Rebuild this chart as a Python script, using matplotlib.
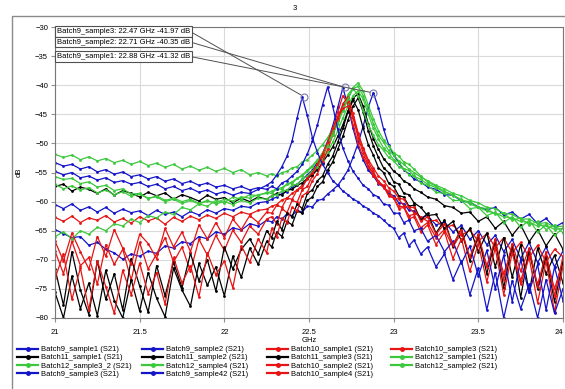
import numpy as np
import matplotlib.pyplot as plt
from matplotlib.lines import Line2D
from matplotlib.patches import Rectangle

plt.rcParams['font.family'] = ['Liberation Sans', 'DejaVu Sans']

# sweep points (GHz), denser around the resonances
freq = [21.00, 21.05, 21.10, 21.15, 21.20, 21.25, 21.30, 21.35, 21.40, 21.45,
        21.50, 21.55, 21.60, 21.65, 21.70, 21.75, 21.80, 21.85, 21.90, 21.95,
        22.00, 22.05, 22.10, 22.15, 22.20, 22.25,
        22.28, 22.31, 22.34, 22.37, 22.40, 22.43, 22.46, 22.49, 22.52, 22.55,
        22.58, 22.61, 22.64, 22.67, 22.70, 22.73, 22.76, 22.79, 22.82, 22.85,
        22.88, 22.91, 22.94, 22.97, 23.00, 23.03, 23.06, 23.09, 23.12,
        23.16, 23.20, 23.25, 23.30, 23.35, 23.40, 23.45, 23.50, 23.55, 23.60,
        23.65, 23.70, 23.75, 23.80, 23.85, 23.90, 23.95, 24.00]

# S21 in dB
b9_s1 = [-64.8, -65.5, -66.2, -66.0, -67.5, -67.0, -68.2, -68.8, -69.9, -69.0,
         -69.4, -68.5, -68.9, -67.6, -68.0, -66.9, -67.2, -66.0, -66.4, -65.2,
         -65.6, -64.5, -64.9, -63.8, -64.2, -63.2,
         -63.5, -62.6, -63.0, -62.1, -62.4, -61.5, -61.8, -60.8, -60.9, -59.8,
         -59.6, -58.7, -58.0, -57.2, -56.0, -54.6, -52.4, -50.0, -47.0, -43.8,
         -41.3, -43.9, -47.5, -50.2, -52.0, -53.3, -54.6, -55.2, -56.1,
         -56.6, -57.5, -57.9, -58.8, -58.9, -59.9, -60.1, -60.9, -61.4, -61.0,
         -62.3, -61.8, -63.0, -62.2, -63.8, -62.9, -64.4, -63.6]
b9_s2 = [-60.5, -61.2, -60.4, -61.5, -60.9, -61.8, -61.0, -62.0, -61.3, -61.9,
         -61.6, -62.4, -61.5, -62.2, -61.8, -62.6, -61.7, -62.3, -61.4, -62.0,
         -61.2, -61.5, -60.8, -61.0, -60.2, -60.0,
         -59.6, -59.2, -58.6, -58.3, -57.5, -57.0, -56.2, -55.4, -54.6, -53.2,
         -51.8, -49.6, -47.0, -43.8, -40.4, -43.6, -47.4, -50.6, -52.8, -54.6,
         -55.6, -56.9, -57.5, -58.6, -59.0, -60.2, -60.4, -61.5, -61.6,
         -62.8, -62.4, -64.0, -63.5, -65.2, -64.1, -66.5, -65.0, -67.4, -65.8,
         -68.6, -66.5, -69.8, -67.0, -70.5, -67.8, -71.2, -68.5]
b10_s1 = [-62.7, -63.4, -62.5, -63.6, -62.8, -63.2, -62.4, -63.5, -62.9, -63.7,
          -62.6, -63.3, -62.8, -63.9, -62.7, -63.4, -62.5, -63.1, -62.3, -62.9,
          -62.0, -62.6, -61.8, -62.2, -61.5, -61.3,
          -60.8, -60.5, -59.7, -59.4, -58.6, -58.0, -57.2, -56.2, -55.0, -53.8,
          -52.0, -50.0, -47.6, -44.6, -41.8, -43.2, -46.8, -50.0, -52.4, -54.0,
          -55.6, -56.4, -57.6, -58.2, -59.3, -59.6, -60.7, -61.0, -61.9,
          -62.6, -63.4, -63.2, -64.6, -64.0, -65.8, -64.9, -66.8, -65.5, -67.9,
          -66.2, -68.8, -67.0, -69.6, -67.5, -70.4, -68.2, -69.5]
b10_s3 = [-68.5, -72.4, -66.8, -71.0, -69.6, -74.2, -67.4, -70.8, -68.2, -73.5,
          -67.0, -71.6, -69.0, -66.2, -70.4, -67.8, -72.0, -66.5, -69.2, -65.8,
          -68.4, -64.9, -67.0, -64.2, -65.6, -63.0,
          -62.6, -63.8, -61.2, -61.9, -59.8, -60.1, -58.0, -57.4, -55.6, -54.0,
          -52.4, -50.2, -48.0, -45.4, -43.4, -42.8, -45.6, -49.0, -51.6, -53.8,
          -55.2, -56.8, -57.4, -58.9, -59.4, -60.8, -60.9, -62.4, -62.2,
          -64.5, -63.6, -66.2, -64.8, -67.8, -65.4, -69.6, -66.2, -71.0, -67.3,
          -72.4, -68.0, -73.6, -68.9, -74.2, -69.4, -75.0, -70.2]
b11_s1 = [-57.4, -57.0, -58.2, -57.5, -57.9, -58.6, -57.8, -58.9, -58.1, -58.6,
          -59.2, -58.4, -59.0, -58.5, -59.6, -58.8, -59.3, -59.9, -58.9, -59.6,
          -59.3, -60.2, -59.4, -60.0, -59.2, -59.6,
          -59.0, -58.6, -58.9, -58.0, -57.9, -57.2, -56.8, -56.0, -55.4, -54.5,
          -53.3, -52.0, -50.6, -48.8, -46.8, -44.4, -42.2, -41.5, -43.6, -46.6,
          -49.2, -51.0, -52.6, -53.6, -54.8, -55.4, -56.5, -56.9, -57.8,
          -58.4, -59.2, -59.6, -60.7, -61.0, -62.0, -61.8, -63.4, -62.6, -64.6,
          -63.4, -65.8, -64.0, -66.9, -64.8, -67.6, -65.5, -68.2]
b11_s2 = [-71.5, -77.8, -68.6, -75.2, -79.4, -70.2, -76.8, -72.4, -78.6, -69.8,
          -74.5, -79.0, -71.0, -76.2, -70.4, -74.8, -68.9, -73.6, -70.0, -75.4,
          -67.8, -71.6, -68.2, -66.4, -69.0, -65.0,
          -66.2, -63.4, -64.8, -62.0, -62.6, -60.4, -61.2, -58.6, -58.0, -56.4,
          -55.6, -53.6, -52.2, -49.8, -47.4, -44.6, -42.6, -44.2, -47.4, -50.2,
          -52.0, -54.2, -55.0, -56.8, -57.4, -59.0, -59.2, -60.8, -60.6,
          -63.2, -62.0, -65.4, -63.2, -67.6, -64.6, -70.2, -65.8, -72.4, -66.6,
          -74.8, -67.4, -76.5, -68.2, -75.0, -69.6, -77.2, -70.4]
b11_s3 = [-75.6, -80.0, -72.8, -78.4, -74.0, -79.6, -71.8, -77.0, -80.0, -73.4,
          -78.8, -72.2, -76.6, -79.8, -71.4, -75.2, -78.0, -70.6, -74.4, -71.2,
          -76.2, -69.4, -73.0, -68.0, -70.8, -66.8,
          -67.8, -65.2, -66.0, -63.4, -64.0, -61.6, -62.0, -59.8, -59.2, -57.4,
          -56.6, -54.6, -53.2, -51.0, -48.8, -46.0, -43.6, -42.2, -44.6, -47.8,
          -50.4, -52.4, -54.2, -55.0, -56.6, -57.0, -58.6, -58.8, -60.2,
          -61.0, -62.4, -62.2, -64.6, -63.4, -66.8, -64.6, -68.6, -65.4, -71.2,
          -66.2, -73.0, -67.4, -75.6, -68.0, -72.4, -69.2, -74.0]
b12_s1 = [-51.9, -52.4, -52.0, -52.8, -52.3, -53.0, -52.6, -53.3, -52.9, -53.6,
          -53.1, -53.8, -53.4, -54.1, -53.6, -54.4, -53.9, -54.6, -54.1, -54.8,
          -54.3, -55.0, -54.5, -55.4, -55.0, -55.6,
          -55.2, -55.6, -55.0, -54.8, -54.2, -54.0, -53.2, -52.8, -52.0, -51.2,
          -50.2, -49.0, -47.6, -46.0, -44.2, -42.2, -40.4, -39.6, -41.0, -43.4,
          -45.8, -47.8, -49.4, -50.4, -51.6, -52.2, -53.2, -53.6, -54.4,
          -55.6, -56.6, -57.4, -58.2, -59.0, -59.6, -60.4, -61.0, -61.6, -62.0,
          -62.6, -62.8, -63.4, -63.6, -64.2, -64.0, -64.8, -64.6]
b12_s3_2 = [-55.7, -56.2, -56.0, -56.9, -56.6, -57.5, -57.2, -58.1, -57.8, -58.7,
            -58.6, -59.4, -59.2, -60.0, -59.6, -60.3, -59.8, -60.4, -59.9, -60.2,
            -59.6, -59.9, -59.2, -59.4, -58.8, -58.6,
            -58.2, -57.8, -57.6, -57.0, -56.6, -56.0, -55.4, -54.6, -53.8, -52.8,
            -51.6, -50.0, -48.2, -46.2, -43.8, -41.6, -40.5, -41.8, -44.4, -46.8,
            -48.6, -50.2, -51.2, -52.4, -53.0, -54.0, -54.4, -55.4, -55.6,
            -56.8, -57.2, -58.4, -58.6, -59.8, -59.8, -61.2, -61.0, -62.4, -61.8,
            -63.6, -62.6, -64.4, -63.2, -65.2, -64.0, -65.8, -64.6]
b12_s4 = [-57.0, -57.8, -57.3, -58.0, -57.6, -58.5, -58.0, -58.8, -58.3, -59.1,
          -58.7, -59.5, -59.0, -59.8, -59.4, -60.0, -59.6, -60.3, -59.8, -60.4,
          -60.0, -60.5, -59.8, -60.2, -59.4, -59.6,
          -59.0, -58.8, -58.2, -58.0, -57.2, -57.0, -56.2, -55.6, -54.8, -54.0,
          -52.8, -51.4, -49.8, -47.8, -45.6, -43.6, -41.8, -41.0, -42.4, -45.0,
          -47.4, -49.2, -50.8, -51.6, -52.8, -53.2, -54.4, -54.6, -55.6,
          -56.2, -57.0, -57.6, -58.4, -58.8, -59.8, -60.0, -61.0, -61.2, -62.2,
          -62.0, -63.2, -62.8, -64.0, -63.4, -64.8, -64.0, -65.4]
b10_s2 = [-73.2, -69.0, -76.8, -71.4, -78.6, -70.2, -74.6, -79.2, -71.8, -76.0,
          -70.6, -75.8, -72.2, -77.6, -69.6, -74.0, -71.0, -76.4, -68.8, -72.6,
          -70.2, -74.8, -67.6, -70.4, -66.4, -68.8,
          -64.6, -66.0, -62.8, -63.6, -61.0, -61.6, -59.0, -58.4, -56.4, -55.2,
          -53.2, -51.0, -48.6, -46.0, -43.2, -42.0, -44.8, -48.2, -51.0, -53.2,
          -54.8, -56.6, -57.2, -59.0, -59.4, -61.2, -61.0, -63.0, -62.6,
          -65.2, -64.0, -67.4, -65.2, -69.8, -66.4, -72.0, -67.2, -73.8, -68.0,
          -76.0, -68.8, -74.2, -69.6, -77.4, -70.2, -79.0, -71.0]
b12_s2 = [-66.0, -65.2, -66.4, -65.0, -65.6, -64.4, -65.0, -63.8, -64.2, -63.0,
          -63.6, -62.4, -62.8, -61.8, -62.2, -61.0, -61.4, -60.4, -60.8, -59.8,
          -60.2, -59.2, -59.6, -58.8, -59.0, -58.4,
          -58.6, -57.8, -57.9, -57.0, -56.9, -56.0, -55.6, -54.8, -54.0, -53.0,
          -51.8, -50.4, -48.6, -46.6, -44.4, -42.4, -40.6, -40.2, -41.8, -44.2,
          -46.6, -48.6, -49.8, -51.2, -52.0, -53.0, -53.6, -54.4, -55.0,
          -55.8, -56.4, -57.2, -57.8, -58.6, -59.0, -59.8, -60.2, -61.0, -61.2,
          -62.0, -62.2, -63.0, -63.0, -63.8, -63.6, -64.4, -64.2]
b9_s3 = [-54.8, -55.4, -55.0, -55.9, -55.6, -56.3, -55.9, -56.7, -56.4, -57.0,
         -56.7, -57.4, -57.0, -57.8, -57.4, -58.1, -57.7, -58.4, -58.0, -58.7,
         -58.3, -58.9, -58.4, -58.6, -57.9, -57.2,
         -56.6, -55.4, -54.0, -52.2, -49.6, -45.6, -42.0, -45.2, -49.0, -51.6,
         -53.6, -55.0, -56.4, -57.2, -58.2, -58.8, -59.6, -60.0, -60.8, -61.2,
         -62.0, -62.4, -63.2, -64.0, -64.6, -66.2, -65.4, -67.6, -66.6,
         -69.0, -67.8, -71.2, -69.0, -73.4, -70.2, -76.0, -71.4, -78.6, -72.2,
         -80.0, -73.6, -78.4, -74.2, -80.0, -73.4, -79.2, -75.0]
b9_s42 = [-53.3, -53.9, -53.6, -54.4, -54.0, -54.9, -54.5, -55.3, -54.9, -55.7,
          -55.4, -56.1, -55.7, -56.5, -56.1, -56.9, -56.5, -57.2, -56.8, -57.5,
          -57.2, -57.8, -57.4, -58.0, -57.6, -57.9,
          -57.4, -57.8, -56.8, -56.4, -55.6, -54.8, -53.6, -51.8, -49.6, -46.8,
          -43.4, -40.3, -43.6, -47.6, -50.8, -53.0, -54.8, -56.0, -57.2, -57.8,
          -58.8, -59.2, -60.4, -60.6, -62.0, -62.0, -63.6, -63.2, -65.0,
          -64.6, -66.8, -65.8, -68.6, -66.8, -70.6, -67.6, -72.8, -68.4, -75.0,
          -69.2, -77.2, -70.0, -75.6, -70.8, -78.6, -71.2, -77.0]
b10_s4 = [-66.8, -70.2, -65.4, -68.6, -71.6, -66.0, -69.4, -64.8, -68.0, -70.8,
          -65.6, -67.2, -69.8, -64.6, -67.8, -65.2, -68.6, -64.0, -66.4, -63.6,
          -66.2, -63.0, -64.8, -62.4, -63.6, -61.8,
          -62.0, -60.6, -61.0, -59.4, -59.6, -58.0, -57.6, -56.0, -55.0, -53.6,
          -51.8, -49.8, -47.4, -45.6, -44.0, -43.6, -45.4, -48.4, -50.8, -52.8,
          -54.2, -55.6, -56.4, -57.6, -58.2, -59.4, -59.6, -61.0, -61.0,
          -63.4, -62.6, -65.6, -63.8, -67.4, -64.8, -69.6, -65.6, -71.2, -66.4,
          -73.4, -67.2, -72.0, -68.0, -74.6, -68.6, -76.2, -69.4]

names = ['Batch9_sample1 (S21)', 'Batch9_sample2 (S21)', 'Batch10_sample1 (S21)', 'Batch10_sample3 (S21)',
         'Batch11_sample1 (S21)', 'Batch11_sample2 (S21)', 'Batch11_sample3 (S21)', 'Batch12_sample1 (S21)',
         'Batch12_sample3_2 (S21)', 'Batch12_sample4 (S21)', 'Batch10_sample2 (S21)', 'Batch12_sample2 (S21)',
         'Batch9_sample3 (S21)', 'Batch9_sample42 (S21)', 'Batch10_sample4 (S21)']
series = [b9_s1, b9_s2, b10_s1, b10_s3, b11_s1, b11_s2, b11_s3, b12_s1,
          b12_s3_2, b12_s4, b10_s2, b12_s2, b9_s3, b9_s42, b10_s4]
blue, red, black, green = '#1414c8', '#e61414', '#000000', '#3cc83c'
colours = [blue, blue, red, red, black, black, black, green,
           green, green, red, green, blue, blue, red]

# marker readouts
mk_names = ['Batch9_sample3', 'Batch9_sample2', 'Batch9_sample1']
mk_freq = [22.47, 22.71, 22.88]
mk_db = [-41.97, -40.35, -41.32]

fig = plt.figure(figsize=(5.65, 3.89), dpi=100)
ax = fig.add_axes([55/565, 1-318/389, 508/565, 291/389])

for nm, vals, col in zip(names, series, colours):
    ax.plot(freq, vals, color=col, lw=0.9, marker='o', ms=2.0, mew=0)

ax.set_xlim(21, 24)
ax.set_ylim(-80, -30)
ax.set_xticks([21, 21.5, 22, 22.5, 23, 23.5, 24])
ax.set_xticklabels(['21', '21.5', '22', '22.5', '23', '23.5', '24'])
ax.get_xticklabels()[-1].set_horizontalalignment('right')
ax.set_yticks(range(-80, -29, 5))
ax.tick_params(labelsize=5.5, length=3, color='#909090', pad=2)
ax.tick_params(axis='x', pad=5)
ax.grid(color='#dadada', lw=0.8)
ax.set_axisbelow(True)
for s in ax.spines.values():
    s.set_color('#777777')
    s.set_linewidth(0.8)
ax.set_xlabel('GHz', fontsize=5.5, labelpad=1)
ax.set_ylabel('dB', fontsize=5.5, labelpad=9)

# marker boxes with leader lines
box_y = [31.5, 42, 56.5]
for i in range(3):
    txt = f'{mk_names[i]}: {mk_freq[i]:.2f} GHz {mk_db[i]:.2f} dB'
    ax.annotate(txt, xy=(mk_freq[i], mk_db[i]), xycoords='data',
                xytext=(57/565, 1-box_y[i]/389), textcoords='figure fraction',
                ha='left', va='center', fontsize=5.5, zorder=10,
                bbox=dict(boxstyle='square,pad=0.25', fc='white', ec='#505050', lw=0.8),
                arrowprops=dict(arrowstyle='-', color='#505050', lw=0.7,
                                relpos=(1, 0.5), shrinkA=0, shrinkB=2.5))
ax.plot(mk_freq, mk_db, 'o', mfc='none', mec='#7a7ab0', ms=5, mew=0.8, zorder=6)

# outer chart frame and title
fig.patches.append(Rectangle((12/565, -0.05), 1.0, 1-16/389+0.05, transform=fig.transFigure,
                             fill=False, ec='#8a8a8a', lw=1.0))
fig.text(295/565, 1-9/389, '3', ha='center', va='center', fontsize=5.5)

# legend laid out in 4 columns, row by row
col_x = [17, 142, 267, 391]
for c in range(4):
    idx = list(range(c, len(names), 4))
    hs = [Line2D([], [], color=colours[k], lw=1.6, marker='o', ms=2.5) for k in idx]
    fig.legend(hs, [names[k] for k in idx], loc='upper left',
               bbox_to_anchor=(col_x[c]/565, 1-346/389), frameon=False, fontsize=5.5,
               handlelength=2.8, handletextpad=0.4, labelspacing=0.1,
               borderpad=0, borderaxespad=0)

fig.savefig('out.png', dpi=100)
